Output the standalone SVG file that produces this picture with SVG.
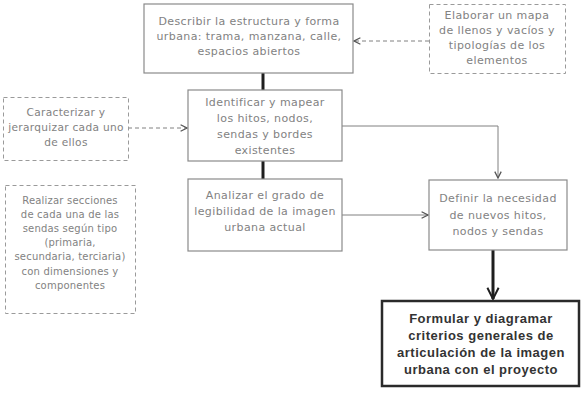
<svg xmlns="http://www.w3.org/2000/svg" width="581" height="401" viewBox="0 0 581 401">
<defs>
<style>
.box{fill:#fff;stroke:#8a8a8a;stroke-width:1.2}
.dbox{fill:#fff;stroke:#9a9a9a;stroke-width:1;stroke-dasharray:4 3}
.main{fill:#fff;stroke:#2a2a2a;stroke-width:2.5}
.t{font-family:"DejaVu Sans",sans-serif;font-size:11px;letter-spacing:0.4px;fill:#828282;text-anchor:middle}
.t2{font-family:"DejaVu Sans",sans-serif;font-size:10.6px;letter-spacing:0.3px;fill:#828282;text-anchor:middle}
.t3{font-family:"DejaVu Sans",sans-serif;font-size:10px;letter-spacing:0.2px;fill:#828282;text-anchor:middle}
.tb{font-family:"Liberation Sans",Arial,sans-serif;font-size:13px;letter-spacing:0.5px;font-weight:bold;fill:#333;text-anchor:middle}
.thick{stroke:#1e1e1e;stroke-width:3;fill:none}
.thin{stroke:#808080;stroke-width:1;fill:none}
.dash{stroke:#808080;stroke-width:1;fill:none;stroke-dasharray:4 3}
</style>
<marker id="ah" viewBox="0 0 10 10" refX="9" refY="5" markerWidth="8" markerHeight="8" markerUnits="userSpaceOnUse" orient="auto">
<path d="M1,1 L9,5 L1,9" fill="none" stroke="#555" stroke-width="1.6"/>
</marker>
<marker id="ahb" viewBox="0 0 10 10" refX="9" refY="5" markerWidth="14" markerHeight="14" markerUnits="userSpaceOnUse" orient="auto">
<path d="M1,1 L9,5 L1,9" fill="none" stroke="#1e1e1e" stroke-width="1.4"/>
</marker>
</defs>
<rect width="581" height="401" fill="#fff"/>

<g id="connectors">
<line class="thick" x1="263" y1="73" x2="263" y2="90"/>
<line class="thick" x1="263" y1="161" x2="263" y2="179"/>
<line class="dash" x1="429" y1="41" x2="354" y2="41" marker-end="url(#ah)"/>
<line class="dash" x1="128" y1="128" x2="187" y2="128" marker-end="url(#ah)"/>
<polyline class="thin" points="342,126 498,126 498,178" marker-end="url(#ah)"/>
<line class="thin" x1="342" y1="215" x2="428" y2="215" marker-end="url(#ah)"/>
<line class="thick" x1="493" y1="250" x2="493" y2="299" marker-end="url(#ahb)"/>
</g>

<g id="describir">
<rect class="box" x="144" y="4" width="209" height="69"/>
<text class="t" x="249" y="25">Describir la estructura y forma</text>
<text class="t" x="249" y="40">urbana: trama, manzana, calle,</text>
<text class="t" x="249" y="55">espacios abiertos</text>
</g>

<g id="elaborar">
<rect class="dbox" x="429.5" y="4.5" width="136" height="69"/>
<text class="t" x="497" y="19">Elaborar un mapa</text>
<text class="t" x="497" y="34">de llenos y vacíos y</text>
<text class="t" x="497" y="49">tipologías de los</text>
<text class="t" x="497" y="64">elementos</text>
</g>

<g id="caracterizar">
<rect class="dbox" x="3.5" y="97.5" width="125" height="63"/>
<text class="t2" x="66" y="116">Caracterizar y</text>
<text class="t2" x="66" y="131">jerarquizar cada uno</text>
<text class="t2" x="66" y="146">de ellos</text>
</g>

<g id="identificar">
<rect class="box" x="188" y="90" width="154" height="71"/>
<text class="t" x="265" y="106">Identificar y mapear</text>
<text class="t" x="265" y="122">los hitos, nodos,</text>
<text class="t" x="265" y="138">sendas y bordes</text>
<text class="t" x="265" y="154">existentes</text>
</g>

<g id="analizar">
<rect class="box" x="188" y="179" width="154" height="72"/>
<text class="t" x="265" y="199">Analizar el grado de</text>
<text class="t" x="265" y="215">legibilidad de la imagen</text>
<text class="t" x="265" y="231">urbana actual</text>
</g>

<g id="definir">
<rect class="box" x="429" y="180" width="138" height="70"/>
<text class="t" x="498" y="202">Definir la necesidad</text>
<text class="t" x="498" y="219">de nuevos hitos,</text>
<text class="t" x="498" y="235">nodos y sendas</text>
</g>

<g id="realizar">
<rect class="dbox" x="5.5" y="185.5" width="130" height="128"/>
<text class="t3" x="70" y="204">Realizar secciones</text>
<text class="t3" x="70" y="218">de cada una de las</text>
<text class="t3" x="70" y="232">sendas según tipo</text>
<text class="t3" x="70" y="246">(primaria,</text>
<text class="t3" x="70" y="260">secundaria, terciaria)</text>
<text class="t3" x="70" y="275">con dimensiones y</text>
<text class="t3" x="70" y="289">componentes</text>
</g>

<g id="formular">
<rect class="main" x="382" y="301" width="197" height="85"/>
<text class="tb" x="481" y="323">Formular y diagramar</text>
<text class="tb" x="481" y="340">criterios generales de</text>
<text class="tb" x="481" y="357">articulación de la imagen</text>
<text class="tb" x="481" y="374">urbana con el proyecto</text>
</g>
</svg>
